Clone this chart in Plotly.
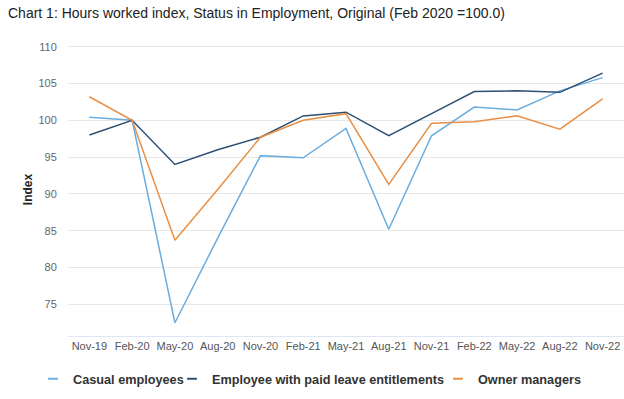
import plotly.graph_objects as go

categories = ["Nov-19", "Feb-20", "May-20", "Aug-20", "Nov-20", "Feb-21", "May-21",
              "Aug-21", "Nov-21", "Feb-22", "May-22", "Aug-22", "Nov-22"]
casual = [100.4, 100.0, 72.5, 84.0, 95.2, 94.9, 98.9, 85.2, 97.9, 101.8, 101.4, 104.0, 105.8]
paid_leave = [98.0, 100.0, 94.0, 96.0, 97.7, 100.6, 101.1, 97.9, 100.9, 103.9, 104.0, 103.8, 106.4]
owner = [103.2, 100.0, 83.7, 90.6, 97.7, 100.0, 100.9, 91.3, 99.6, 99.8, 100.6, 98.8, 102.9]

series_names = ["Casual employees", "Employee with paid leave entitlements", "Owner managers"]
series_vals = [casual, paid_leave, owner]
colors = ["#6aaddf", "#2d4f73", "#e88f45"]
legend_ids = ["legend", "legend2", "legend3"]
legend_x = [33, 172, 438]

fig = go.Figure()
for name, vals, c, lg in zip(series_names, series_vals, colors, legend_ids):
    fig.add_trace(go.Scatter(x=categories, y=vals, mode="lines", name=name, showlegend=False,
                             legendgroup=name, line=dict(color=c, width=1.5)))
    # legend entry with a short line symbol, as in the reference
    fig.add_trace(go.Scatter(x=[None], y=[None], mode="markers", name=name, legend=lg,
                             legendgroup=name,
                             marker=dict(symbol="line-ew-open", size=7, color=c,
                                         line=dict(color=c, width=2))))

legend_font = dict(size=12.7, color="#333", family="Liberation Sans, Arial, sans-serif", weight="bold")
legend_common = dict(orientation="h", xref="container", yref="container", xanchor="left",
                     y=1-379/399, yanchor="middle", font=legend_font, bgcolor="rgba(0,0,0,0)")

fig.update_layout(
    width=624, height=399,
    margin=dict(l=68, r=0, t=43, b=63),
    paper_bgcolor="white", plot_bgcolor="white",
    font=dict(family="Liberation Sans, Arial, sans-serif", color="#555"),
    title=dict(text="Chart 1: Hours worked index, Status in Employment, Original (Feb 2020 =100.0)",
               x=8/624, xref="container", xanchor="left", y=1-13/399, yanchor="middle",
               font=dict(size=14, color="#222")),
    showlegend=True,
    legend=dict(x=legend_x[0]/624, **legend_common),
    legend2=dict(x=legend_x[1]/624, **legend_common),
    legend3=dict(x=legend_x[2]/624, **legend_common),
    xaxis=dict(type="category", range=[-0.5, 12.5], showgrid=False, showline=True,
               linecolor="#dce6f5", linewidth=1, ticks="", tickfont=dict(size=11, color="#555"),
               tickangle=0, ticklabeloverflow="allow"),
    yaxis=dict(range=[70.7, 110.5], tickvals=[75, 80, 85, 90, 95, 100, 105, 110],
               showgrid=True, gridcolor="#e8e8e8", gridwidth=1, zeroline=False, showline=False,
               ticks="outside", ticklen=8, tickcolor="rgba(0,0,0,0)",
               tickfont=dict(size=11, color="#666"),
               title=dict(text="<b>Index</b>", font=dict(size=12, color="#222"), standoff=3)),
)
fig.write_html("out.html", config={"displayModeBar": False},
               post_script="document.body.style.margin='0';document.body.style.overflow='hidden';")
